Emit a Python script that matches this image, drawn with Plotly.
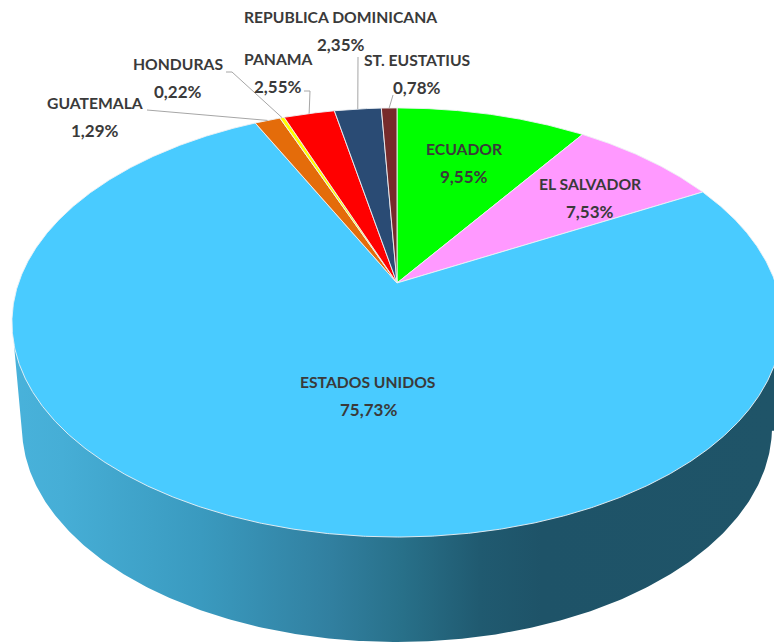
import numpy as np
import plotly.graph_objects as go

categories = ["ECUADOR", "EL SALVADOR", "ESTADOS UNIDOS", "GUATEMALA", "HONDURAS",
              "PANAMA", "REPUBLICA DOMINICANA", "ST. EUSTATIUS"]
values = [9.55, 7.53, 75.73, 1.29, 0.22, 2.55, 2.35, 0.78]
colors = ["#00FF00", "#FF99FF", "#49CBFF", "#E46C0A", "#FFFF00", "#FF0000", "#2A4B74", "#772B2B"]
label_x = [464, 590, 368, 95, 178, 278, 340.5, 417]
label_y = [149, 184, 382, 103, 64, 59, 17, 60]
LABEL_GAP = 27.3

# Perspective of the pie's top face
CX, CY, A, B, K = 397.0, 283.0, 378.5, 207.3, 0.184
# Bottom rim of the side wall
BX, BY, BRX, BRY = 397.0, 427.0, 375.0, 215.0


def project(theta, r=1.0):
    u, v = r * np.sin(theta), r * np.cos(theta)
    w = 1 + K * v
    return CX + A * u / w, CY - B * v / w


fig = go.Figure()

# Side wall with its horizontal shading
wx = BX - BRX * np.cos(np.radians(np.linspace(4, 179, 300)))
wy = BY + BRY * np.sin(np.radians(np.linspace(4, 179, 300)))
wall_x = np.concatenate([[14, 40], [14], wx, [774, 774, 700]])
wall_y = np.concatenate([[345, 345], [345], wy, [wy[-1], 345, 345]])
fig.add_trace(go.Scatter(
    x=wall_x, y=wall_y, mode="lines", fill="toself", line=dict(width=0),
    hoverinfo="skip", showlegend=False,
    fillgradient=dict(
        type="horizontal", start=0, stop=774,
        colorscale=[[0, "#49B3DC"], [0.08, "#46AED6"], [0.26, "#3A9ABF"], [0.43, "#317F9F"],
                    [0.52, "#287089"], [0.62, "#205A70"], [0.70, "#1E5368"], [1, "#1F5468"]],
    ),
))

# Top-face slices, clockwise from twelve o'clock
edges = np.concatenate([[0], np.cumsum(values)]) / sum(values) * 2 * np.pi
for name, val, col, a0, a1 in zip(categories, values, colors, edges[:-1], edges[1:]):
    th = np.linspace(a0, a1, max(3, int(np.degrees(a1 - a0) * 4)))
    px, py = project(th)
    fig.add_trace(go.Scatter(
        x=np.concatenate([[CX], px, [CX]]), y=np.concatenate([[CY], py, [CY]]),
        mode="lines", fill="toself", fillcolor=col,
        line=dict(color="rgba(238,242,245,0.9)", width=1),
        name=name, text=f"{name} {val}%", hoverinfo="text", showlegend=False,
    ))

# Leader lines: elbow start -> slice rim
leaders = {
    "GUATEMALA": [(147, 110)],
    "HONDURAS": [(226, 72), (232, 72)],
    "PANAMA": [(304, 91), (310, 91)],
    "REPUBLICA DOMINICANA": [(358, 57)],
    "ST. EUSTATIUS": [(393, 95)],
}
for name, pts in leaders.items():
    i = categories.index(name)
    ex, ey = project((edges[i] + edges[i + 1]) / 2)
    xs = [p[0] for p in pts] + [float(ex)]
    ys = [p[1] for p in pts] + [float(ey)]
    fig.add_trace(go.Scatter(x=xs, y=ys, mode="lines", line=dict(color="#A6A6A6", width=1),
                             hoverinfo="skip", showlegend=False))

name_font = dict(family="Lato", size=15.7, color="#3A3A3A", weight="bold")
pct_font = dict(family="Lato", size=17, color="#3A3A3A", weight="bold")
annotations = []
for name, val, lx, ly in zip(categories, values, label_x, label_y):
    pct = f"{val:.2f}%".replace(".", ",")
    for txt, yy, fnt in ((name, ly, name_font), (pct, ly + LABEL_GAP, pct_font)):
        annotations.append(dict(x=lx, y=yy, xref="x", yref="y", text=f"<b>{txt}</b>",
                                showarrow=False, font=fnt, xanchor="center", yanchor="middle"))

fig.update_layout(
    width=774, height=642, margin=dict(l=0, r=0, t=0, b=0),
    paper_bgcolor="white", plot_bgcolor="white", showlegend=False,
    xaxis=dict(range=[0, 774], visible=False, fixedrange=True),
    yaxis=dict(range=[642, 0], visible=False, fixedrange=True),
    annotations=annotations,
)
fig.write_html("out.html", post_script="document.body.style.margin='0';",
               config={"displayModeBar": False})
